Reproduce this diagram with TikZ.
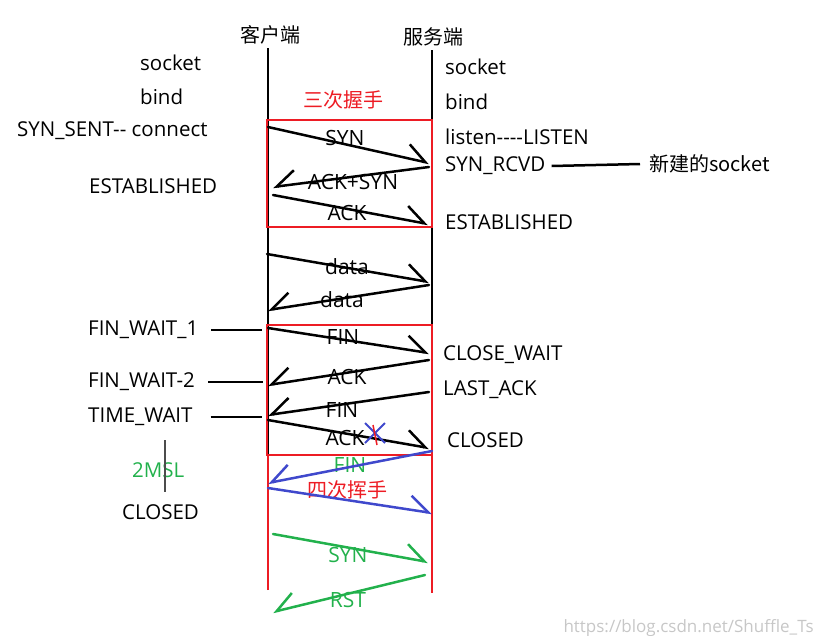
\documentclass[tikz,border=0pt]{standalone}
\usepackage{fontspec}
\setmainfont{Open Sans}
\newfontfamily\cjk{Noto Sans CJK SC}
\usetikzlibrary{arrows.meta}
\definecolor{pred}{RGB}{237,28,36}
\definecolor{pblue}{RGB}{63,72,204}
\definecolor{pgreen}{RGB}{34,177,76}
\tikzset{
    txt/.style={font=\fontsize{20.5}{22}\selectfont,inner sep=0pt,anchor=west},
    zh/.style={font=\cjk\fontsize{20}{22}\selectfont,inner sep=0pt},
    lbl/.style={font=\fontsize{21}{22}\selectfont,inner sep=0pt},
    life/.style={line width=2.5pt},
    box/.style={draw=pred,line width=2.5pt},
    msg/.style={line width=2.5pt,line cap=round,-{Straight Barb[harpoon,length=19pt,width=28pt,line width=2.5pt]}},
    msgl/.style={msg,-{Straight Barb[harpoon,swap,length=19pt,width=28pt,line width=2.5pt]}}
}

\begin{document}
\begin{tikzpicture}[x=1pt,y=-1pt]
    \useasboundingbox (0,0) rectangle (816,635);
    % Titles
    \node[zh] (client) at (270,35) {客户端};
    \node[zh] (server) at (433,37) {服务端};
    % Lifelines
    \coordinate (ctop) at (268,48);
    \coordinate (cbot) at (268,455);
    \coordinate (stop) at (432,50);
    \coordinate (sbot) at (432,455);
    \draw[life] (ctop) -- (cbot);
    \draw[life] (stop) -- (sbot);
    % Boxes
    \draw[box] (267,120) rectangle (432,227);
    \draw[box] (267,325) rectangle (432,455);
    \draw[box] (268,590) -- (268,455) -- (432,455) -- (432,593);
    \node[zh,text=pred] (three) at (343,100) {三次握手};
    % Client states
    \node[txt] (csock) at (140,63) {socket};
    \node[txt] (cbind) at (140,97) {bind};
    \node[txt] (cconn) at (17,131) {SYN\_SENT-\kern0pt- connect};
    \node[txt] (cest) at (89,186) {ESTABLISHED};
    \node[txt] (fw1) at (88,330) {FIN\_WAIT\_1};
    \node[txt] (fw2) at (88,382) {FIN\_WAIT-2};
    \node[txt] (tw) at (88,417) {TIME\_WAIT};
    \node[txt,text=pgreen] (msl) at (132,470) {2MSL};
    \node[txt] (cclosed) at (122,512) {CLOSED};
    \coordinate (fw1e) at (262,330);
    \coordinate (fw2e) at (263,382);
    \coordinate (twe) at (262,417);
    \draw[life] ([xshift=13pt]fw1.east) -- (fw1e);
    \draw[life] ([xshift=13pt]fw2.east) -- (fw2e);
    \draw[life] ([xshift=18pt]tw.east) -- (twe);
    \coordinate (msla) at (165,440);
    \coordinate (mslb) at (165,492);
    \draw[line width=1.2pt,black!70] (msla) -- (mslb);
    % Server states
    \node[txt] (ssock) at (445,67) {socket};
    \node[txt] (sbind) at (445,102) {bind};
    \node[txt] (slisten) at (445,137) {listen-\kern0pt-\kern0pt-\kern0pt-LISTEN};
    \node[txt] (rcvd) at (445,166) {SYN\_RCVD};
    \node[zh,anchor=west] (newsock) at (649,164) {新建的socket};
    \draw[life] ([xshift=6pt]rcvd.east) -- ([xshift=-9pt]newsock.west);
    \node[txt] (sest) at (445,222) {ESTABLISHED};
    \node[txt] (cwait) at (443,355) {CLOSE\_WAIT};
    \node[txt] (lack) at (443,390) {LAST\_ACK};
    \node[txt] (sclosed) at (447,440) {CLOSED};
    % Handshake
    \coordinate (a1) at (268,127); \coordinate (a2) at (429,163);
    \coordinate (b1) at (429,167); \coordinate (b2) at (273,187);
    \coordinate (c1) at (273,195); \coordinate (c2) at (428,224);
    \draw[msg] (a1) -- (a2);
    \draw[msgl] (b1) -- (b2);
    \draw[msg] (c1) -- (c2);
    \node[lbl] (syn) at (345,138) {SYN};
    \node[lbl] (synack) at (353,182) {ACK+SYN};
    \node[lbl] (ack) at (347,213) {ACK};
    % Data
    \coordinate (d1) at (267,254); \coordinate (d2) at (429,282);
    \coordinate (e1) at (429,285); \coordinate (e2) at (268,310);
    \draw[msg] (d1) -- (d2);
    \draw[msgl] (e1) -- (e2);
    \node[lbl] (data1) at (347,267) {data};
    \node[lbl] (data2) at (342,300) {data};
    % Teardown
    \coordinate (f1) at (268,328); \coordinate (f2) at (429,353);
    \coordinate (g1) at (429,360); \coordinate (g2) at (268,385);
    \coordinate (h1) at (429,392); \coordinate (h2) at (268,415);
    \coordinate (k1) at (268,420); \coordinate (k2) at (429,448);
    \draw[msg] (f1) -- (f2);
    \draw[msgl] (g1) -- (g2);
    \draw[msgl] (h1) -- (h2);
    \draw[msg] (k1) -- (k2);
    \node[lbl] (fin1) at (343,337) {FIN};
    \node[lbl] (ack1) at (347,377) {ACK};
    \node[lbl] (fin2) at (342,410) {FIN};
    \node[lbl] (ack2) at (345,438) {ACK};
    % Lost ACK
    \draw[pblue,line width=2pt] (365,423) -- (385,443) (385,423) -- (365,443);
    \draw[pred,line width=1.5pt] (373,425) -- (377,445);
    % Resent FIN
    \node[lbl,text=pgreen] (fin3) at (350,465) {FIN};
    \node[zh,text=pred] (four) at (347,490) {四次挥手};
    \coordinate (m1) at (432,451); \coordinate (m2) at (268,483);
    \coordinate (n1) at (268,488); \coordinate (n2) at (432,513);
    \draw[msgl,pblue] (m1) -- (m2);
    \draw[msg,pblue] (n1) -- (n2);
    % SYN and RST
    \coordinate (p1) at (273,534); \coordinate (p2) at (428,562);
    \coordinate (q1) at (425,575); \coordinate (q2) at (273,612);
    \draw[msg,pgreen] (p1) -- (p2);
    \draw[msgl,pgreen] (q1) -- (q2);
    \node[lbl,text=pgreen] (syn2) at (348,555) {SYN};
    \node[lbl,text=pgreen] (rst) at (348,600) {RST};
    % Watermark
    \node[font=\fontsize{17}{20}\selectfont,text=black!22,anchor=east,inner sep=0pt] (mark) at (814,628) {https://blog.csdn.net/Shuffle\_Ts};
\end{tikzpicture}
\end{document}
